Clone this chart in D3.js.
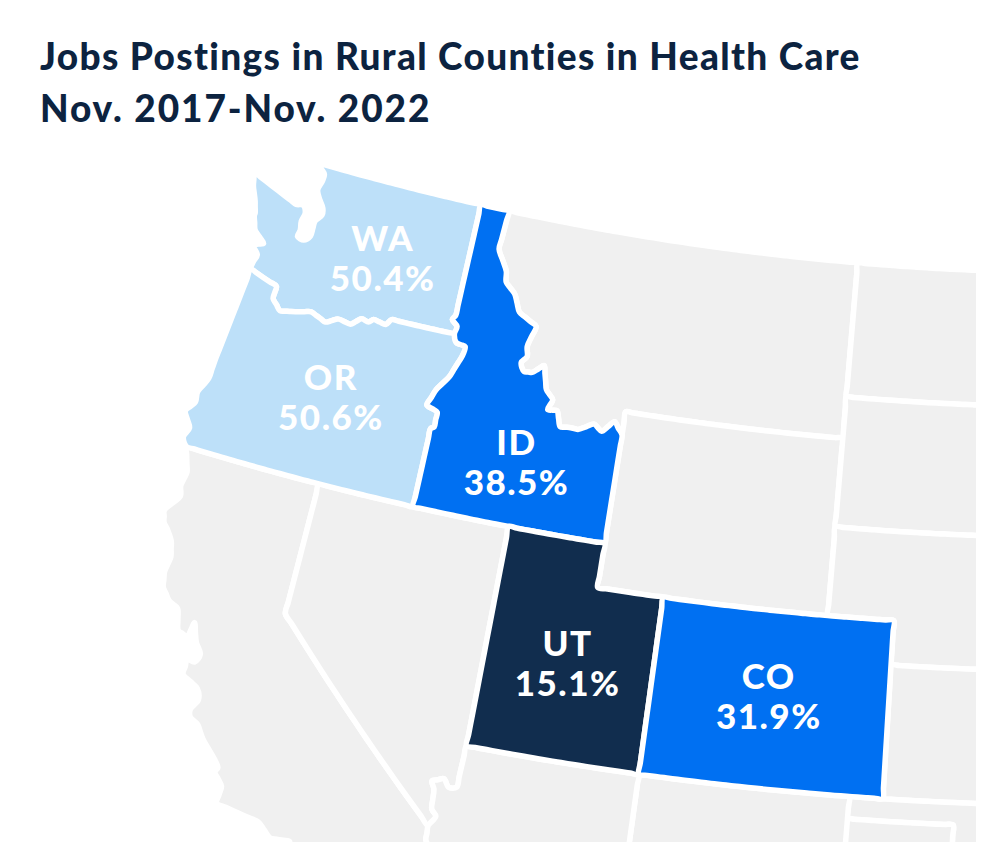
<!DOCTYPE html>
<html>
<head>
<meta charset="utf-8">
<script src="https://cdn.jsdelivr.net/npm/d3@7"></script>
<style>
  html, body { margin: 0; background: #fff; }
  text { font-family: Lato, sans-serif; font-weight: 900; font-variant-ligatures: none; }
</style>
</head>
<body>
<svg id="map" width="1000" height="866"></svg>
<script>
const titleLines = ["Jobs Postings in Rural Counties in Health Care", "Nov. 2017-Nov. 2022"];

// highlighted states
const states = ["WA", "OR", "ID", "UT", "CO"];
const shares = [50.4, 50.6, 38.5, 15.1, 31.9];
const labelPoints = [[-119.88, 47.45], [-120.37, 44.11], [-114.22, 43.61], [-111.61, 39.38], [-105.6, 39.25]];

// shared borders, [lon, lat]
const coastWA = [[-122.76, 49], [-122.44, 48.79], [-122.44, 48.63], [-122.51, 48.4], [-122.35, 48.2], [-122.18, 48.04], [-122.14, 47.88], [-122.31, 47.71], [-122.32, 47.35], [-122.5, 47.22], [-122.73, 47.26], [-122.7, 47.41], [-122.75, 47.62], [-122.7, 47.82], [-122.84, 47.98], [-123.07, 47.95], [-124.73, 48.38], [-124.62, 48.07], [-124.42, 47.76], [-124.3, 47.5], [-124.3, 47.43], [-124.14, 47.13], [-123.74, 46.89], [-124.06, 46.79], [-123.83, 46.6], [-123.89, 46.42], [-123.9, 46.25]];
const columbia = [[-123.9, 46.25], [-122.94, 46.04], [-122.93, 45.75], [-122.61, 45.53], [-122.26, 45.58], [-121.63, 45.7], [-121.1, 45.56], [-120.72, 45.7], [-120.3, 45.66], [-119.99, 45.84], [-119.75, 45.81], [-119.61, 45.89], [-119.19, 45.85], [-119.04, 45.99], [-116.95, 46.0]];
const lewiston = [[-116.95, 46.0], [-116.92, 46.18], [-117.12, 46.31], [-117.04, 46.42]];
const snake = [[-116.95, 46.0], [-116.83, 45.82], [-116.52, 45.77], [-116.55, 45.54], [-116.81, 45.03], [-117.13, 44.68], [-117.31, 44.3], [-116.94, 44.19], [-116.93, 43.85], [-117.03, 43.8], [-117.03, 42]];
const coastOR = [[-123.9, 46.25], [-124.14, 44.09], [-124.17, 43.61], [-124.38, 43.25], [-124.35, 43.02], [-124.57, 42.76], [-124.29, 42.42], [-124.39, 42.19], [-124.21, 42]];
const coastCA = [[-124.21, 42], [-123.97, 41.46], [-124.03, 41.12], [-123.95, 40.9], [-124.29, 40.49], [-124.19, 40.23], [-124.03, 40.1], [-123.82, 39.87], [-123.7, 39.54], [-123.75, 39.17], [-123.66, 38.84], [-123.39, 38.59], [-123.08, 38.47], [-122.88, 38.0], [-122.58, 37.92], [-122.49, 38.27], [-122.28, 37.85], [-122.08, 37.63], [-122.18, 37.42], [-122.4, 37.44], [-122.4, 37.09], [-121.9, 36.87], [-121.78, 36.63], [-121.93, 36.37], [-121.87, 36.21], [-121.62, 36.1], [-121.36, 35.81], [-120.9, 35.44], [-120.75, 35.28], [-120.8, 35.17], [-120.52, 34.9], [-120.53, 34.5], [-119.29, 34.33], [-118.86, 34.04], [-118.32, 34.07], [-118.4, 33.75], [-117.9, 33.6], [-117.3, 33], [-117.12, 32.53]];
const bitterroot = [[-116.05, 49], [-116.11, 48.1], [-115.72, 47.64], [-115.65, 47.4], [-115.29, 47.17], [-115.02, 46.79], [-114.39, 46.55], [-114.55, 46.06], [-114.49, 45.84], [-114.64, 45.68], [-114.49, 45.49], [-114.23, 45.51], [-113.89, 45.71], [-113.68, 45.19], [-113.42, 44.99], [-113.52, 44.75], [-113.22, 44.76], [-113.03, 44.42], [-112.7, 44.44], [-112.46, 44.43], [-111.98, 44.61], [-111.71, 44.48], [-111.35, 44.74], [-111.05, 44.47]];
const colorado = [[-114.67, 35.08], [-114.65, 34.75], [-114.15, 34.27], [-114.4, 34.1], [-114.53, 33.6], [-114.72, 33.4], [-114.5, 33], [-114.72, 32.72]];
const mead = [[-114.04, 37], [-114.09, 36.05], [-114.31, 36.01], [-114.49, 36.18], [-114.81, 36.08], [-114.71, 35.91], [-114.66, 35.46], [-114.51, 35.32], [-114.67, 35.08]];

const back = a => a.slice().reverse();

const outlines = {
  WA: [...coastWA, ...columbia, ...lewiston, [-117.03, 49]],
  OR: [...coastOR, [-117.03, 42], ...back(snake), ...back(columbia)],
  ID: [[-117.03, 49], ...back(lewiston), ...snake, [-111.05, 42], ...back(bitterroot)],
  UT: [[-114.04, 42], [-111.05, 42], [-111.05, 41], [-109.05, 41], [-109.05, 37], [-114.04, 37]],
  CO: [[-109.05, 41], [-102.05, 41], [-102.04, 37], [-109.05, 37]]
};

const backgroundOutlines = [
  [...coastCA, [-114.72, 32.72], ...back(colorado), [-120, 39], [-120, 42]], // CA
  [[-120, 42], [-114.04, 42], ...mead, [-120, 39]], // NV
  [...bitterroot, [-111.05, 45], [-104.05, 45], [-104.05, 49]], // MT
  [[-111.05, 45], [-104.05, 45], [-104.05, 41], [-111.05, 41]], // WY
  [[-104.05, 49], [-96.5, 49], [-96.5, 45.94], [-104.05, 45.94]], // ND
  [[-104.05, 45.94], [-96.5, 45.94], [-96.5, 43], [-104.05, 43]], // SD
  [[-104.05, 43], [-96, 43], [-96, 40], [-102.05, 40], [-102.05, 41], [-104.05, 41]], // NE
  [[-102.05, 40], [-94.6, 40], [-94.6, 37], [-102.04, 37]], // KS
  [[-103, 37], [-94.5, 37], [-94.5, 35], [-100, 35], [-100, 36.5], [-103, 36.5]], // OK
  [[-103.04, 36.5], [-100, 36.5], [-100, 34], [-95, 34], [-95, 31], [-103.05, 31]], // TX
  [[-109.05, 37], [-103, 37], [-103.05, 31.33], [-109.05, 31.33]], // NM
  [[-114.04, 37], [-109.05, 37], [-109.05, 31.33], [-114.8, 32.5], [-114.72, 32.72], ...back(colorado), ...back(mead).slice(1)] // AZ
];

const svg = d3.select("#map");

const projection = d3.geoAlbers()
  .scale(2535)
  .translate([1073.5, 729.5]);

// long parallels have to stay curved, so walk along them in small lon/lat steps
const walk = ring => {
  const out = [];
  ring.forEach((p, i) => {
    const q = ring[(i + 1) % ring.length];
    const span = Math.max(Math.abs(q[0] - p[0]), Math.abs(q[1] - p[1]));
    if (span === 0) return;
    const n = Math.ceil(span / 0.25);
    for (let k = 0; k < n; k++) {
      out.push([p[0] + (q[0] - p[0]) * k / n, p[1] + (q[1] - p[1]) * k / n]);
    }
  });
  return out;
};

const ringPath = d3.line().curve(d3.curveCatmullRomClosed.alpha(0.5));
const drawRing = ring => ringPath(walk(ring).map(projection));

const color = d3.scaleThreshold()
  .domain([20, 45])
  .range(["#112D4E", "#0070F2", "#BDE0F9"]);

svg.append("clipPath")
  .attr("id", "frame")
  .append("rect")
  .attr("width", 976)
  .attr("height", 842);

const map = svg.append("g").attr("clip-path", "url(#frame)");

map.append("g")
  .attr("class", "background")
  .selectAll("path")
  .data(backgroundOutlines)
  .enter()
  .append("path")
  .attr("d", drawRing)
  .style("fill", "#F0F0F0")
  .style("stroke", "#fff")
  .style("stroke-width", 5.5)
  .style("stroke-linejoin", "round");

map.append("g")
  .attr("class", "states")
  .selectAll("path")
  .data(states)
  .enter()
  .append("path")
  .attr("d", d => drawRing(outlines[d]))
  .style("fill", (d, i) => color(shares[i]))
  .style("stroke", "#fff")
  .style("stroke-width", 5.5)
  .style("stroke-linejoin", "round");

const labels = svg.append("g")
  .attr("class", "labels")
  .selectAll("text")
  .data(states)
  .enter()
  .append("text")
  .attr("text-anchor", "middle")
  .attr("transform", (d, i) => "translate(" + projection(labelPoints[i]) + ")")
  .style("fill", "#fff")
  .style("font-size", "35px")
  .style("letter-spacing", "1.5px");

labels.append("tspan")
  .attr("x", 0)
  .attr("y", 0)
  .text(d => d);

labels.append("tspan")
  .attr("x", 0)
  .attr("y", 40)
  .text((d, i) => shares[i].toFixed(1) + "%");

svg.append("g")
  .attr("class", "title")
  .selectAll("text")
  .data(titleLines)
  .enter()
  .append("text")
  .attr("x", 40)
  .attr("y", (d, i) => 70 + i * 52)
  .style("fill", "#0C2340")
  .style("font-size", "37px")
  .style("letter-spacing", (d, i) => i ? "1.9px" : "1.35px")
  .text(d => d);
</script>
</body>
</html>
